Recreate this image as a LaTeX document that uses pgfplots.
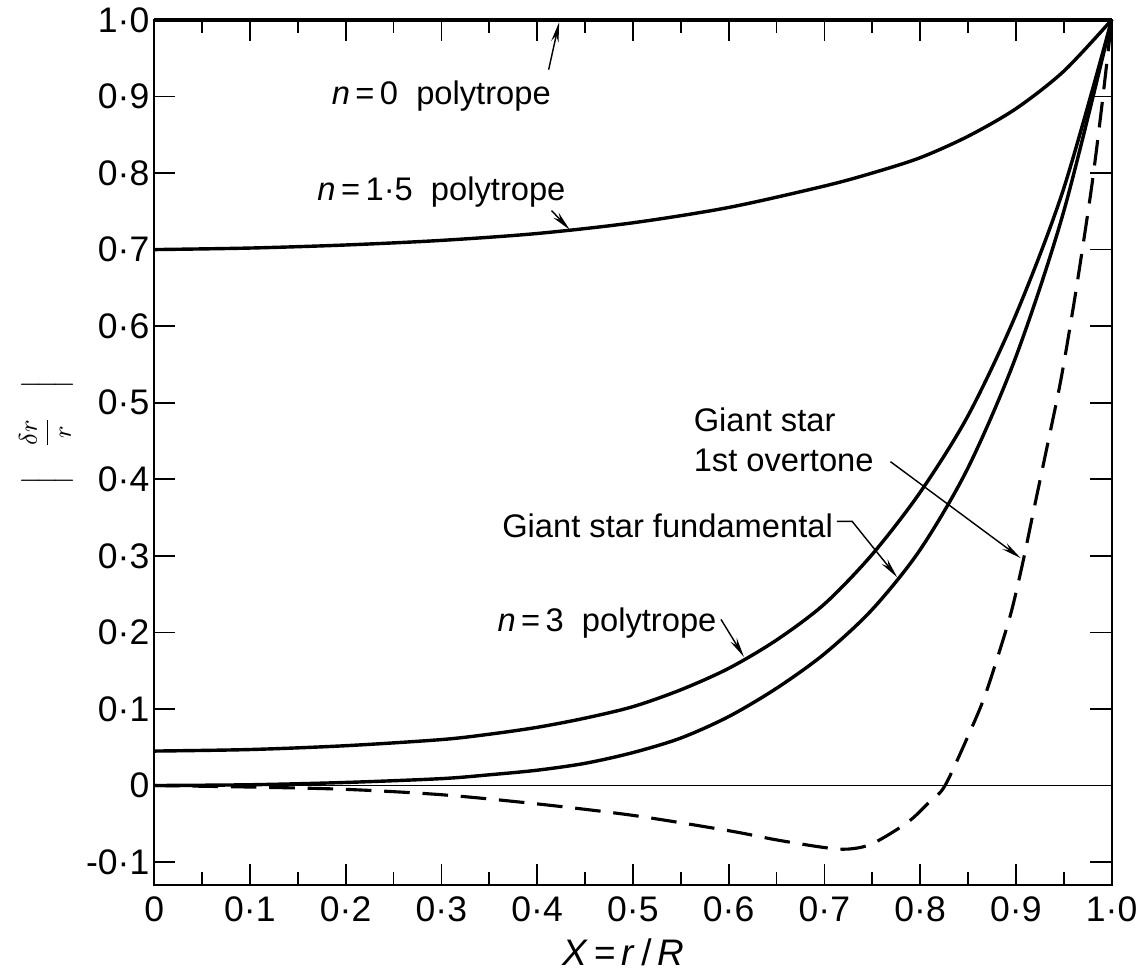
\documentclass[border=0pt]{standalone}
\usepackage{fontspec}
\setmainfont{Liberation Sans}
\usepackage{pgfplots}
\pgfplotsset{compat=1.18}
\usetikzlibrary{arrows.meta}
\begin{document}
\begin{tikzpicture}
\begin{axis}[
  scale only axis, width=337pt, height=304.5pt,
  xmin=0, xmax=1, ymin=-0.13, ymax=1.0,
  clip=false,
  axis line style={line width=0.75pt},
  tick style={line width=0.6pt, black},
  tick align=inside,
  major tick length=7.5pt, minor tick length=4.5pt,
  xtick={0,0.1,0.2,0.3,0.4,0.5,0.6,0.7,0.8,0.9,1.0},
  minor xtick={0.05,0.15,0.25,0.35,0.45,0.55,0.65,0.75,0.85,0.95},
  xticklabels={0,0·1,0·2,0·3,0·4,0·5,0·6,0·7,0·8,0·9,1·0},
  ytick={-0.1,0,0.1,0.2,0.3,0.4,0.5,0.6,0.7,0.8,0.9,1.0},
  yticklabels={-0·1,0,0·1,0·2,0·3,0·4,0·5,0·6,0·7,0·8,0·9,1·0},
  ticklabel style={font=\fontsize{12.5}{14}\selectfont},
  yticklabel style={inner sep=1.5pt},
  xticklabel style={inner sep=2pt, yshift=-2pt},
  xlabel={\textit{X}\,=\,\textit{r}\,/\,\textit{R}},
  xlabel style={font=\fontsize{13}{15}\selectfont, at={(rel axis cs:0.49,-0.078)}, anchor=center},
  ylabel={$\displaystyle\left|\quad\frac{\delta r}{r}\quad\right|$},
  ylabel style={font=\fontsize{9.5}{11}\selectfont, inner sep=0pt, at={(rel axis cs:-0.113,0.523)}, anchor=center, rotate=0},
]
% invisible frame to fix proportions
\path (rel axis cs:-0.161,-0.1) rectangle (rel axis cs:1.026,1.023);

% zero line
\addplot[black, line width=0.6pt] coordinates {(0,0) (1,0)};

% n = 0 polytrope
\addplot[black, line width=1.2pt] coordinates {(0,1) (1,1)};

% n = 1.5 polytrope
\addplot[black, line width=1.2pt, smooth] coordinates {
(0,0.700) (0.1,0.702) (0.2,0.706) (0.3,0.712) (0.4,0.721) (0.5,0.735)
(0.6,0.755) (0.7,0.783) (0.75,0.8) (0.8,0.82) (0.85,0.848) (0.9,0.884) (0.95,0.933) (1.0,1.0)};

% n = 3 polytrope
\addplot[black, line width=1.2pt, smooth] coordinates {
(0,0.045) (0.1,0.047) (0.2,0.052) (0.3,0.060) (0.35,0.067) (0.4,0.076) (0.45,0.088)
(0.5,0.103) (0.55,0.125) (0.6,0.153) (0.65,0.19) (0.7,0.237) (0.75,0.302)
(0.8,0.383) (0.85,0.483) (0.9,0.615) (0.95,0.78) (1.0,1.0)};

% giant star fundamental
\addplot[black, line width=1.2pt, smooth] coordinates {
(0,0.0) (0.1,0.001) (0.2,0.004) (0.3,0.009) (0.35,0.014) (0.4,0.02)
(0.45,0.029) (0.5,0.043) (0.55,0.062) (0.6,0.09) (0.65,0.127) (0.7,0.172)
(0.75,0.23) (0.8,0.308) (0.85,0.415) (0.9,0.56) (0.95,0.75) (1.0,1.0)};

% giant star 1st overtone
\addplot[black, line width=1.1pt, smooth, dash pattern=on 9pt off 4.5pt] coordinates {
(0,0) (0.1,-0.002) (0.2,-0.005) (0.3,-0.012) (0.4,-0.024)
(0.5,-0.039) (0.6,-0.059) (0.65,-0.071) (0.7,-0.081) (0.725,-0.083)
(0.75,-0.076) (0.787,-0.048) (0.81,-0.021) (0.826,0) (0.853,0.073)
(0.867,0.115) (0.881,0.168) (0.895,0.226) (0.907,0.29) (0.919,0.362)
(0.933,0.445) (0.947,0.53) (0.96,0.625) (0.97,0.705) (0.98,0.79)
(0.99,0.89) (1.0,1.0)};

% annotations
\tikzset{lbl/.style={font=\fontsize{11.5}{14}\selectfont, inner sep=0pt, anchor=west},
         arr/.style={line width=0.5pt, -{Stealth[length=7pt,width=2.6pt]}}}
\node[lbl] at (axis cs:0.185,0.90) {\textit{n}\,=\,0\ \ polytrope};
\draw[arr] (axis cs:0.412,0.935) -- (axis cs:0.423,0.997);

\node[lbl] at (axis cs:0.17,0.775) {\textit{n}\,=\,1·5\ \ polytrope};
\draw[arr] (axis cs:0.415,0.751) -- (axis cs:0.434,0.726);

\node[lbl, align=left] at (axis cs:0.563,0.452) {Giant star\\1st overtone};
\draw[arr] (axis cs:0.769,0.423) -- (axis cs:0.905,0.297);

\node[lbl] at (axis cs:0.363,0.339) {Giant star fundamental};
\draw[arr] (axis cs:0.713,0.345) -- (axis cs:0.729,0.345) -- (axis cs:0.776,0.272);

\node[lbl] at (axis cs:0.358,0.212) {\textit{n}\,=\,3\ \ polytrope};
\draw[arr] (axis cs:0.592,0.217) -- (axis cs:0.616,0.168);
\end{axis}
\end{tikzpicture}
\end{document}
